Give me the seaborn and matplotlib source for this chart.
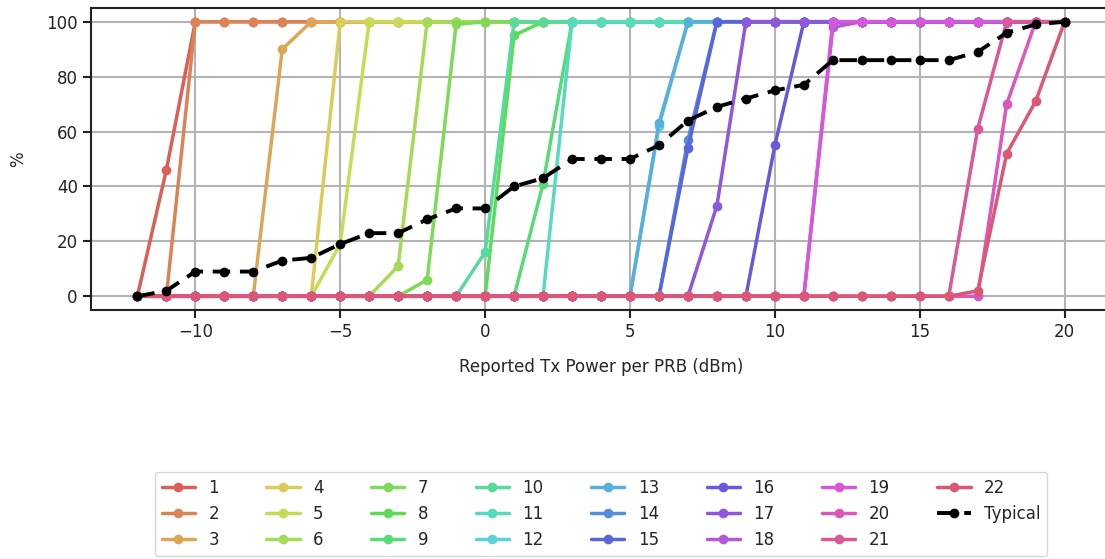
import matplotlib
matplotlib.use("Agg")
import matplotlib.pyplot as plt
import seaborn as sns
import pandas as pd

# Reported Tx power per PRB (dBm)
tx_power = [-12, -11, -10, -9, -8, -7, -6, -5, -4, -3, -2,
            -1, 0, 1, 2, 3, 4, 5, 6, 7, 8, 9,
            10, 11, 12, 13, 14, 15, 16, 17, 18, 19, 20]

# Cumulative share (%) per device, one list per device
s1 = [0, 46, 100, 100, 100, 100, 100, 100, 100, 100, 100,
      100, 100, 100, 100, 100, 100, 100, 100, 100, 100, 100,
      100, 100, 100, 100, 100, 100, 100, 100, 100, 100, 100]
s2 = [0, 0, 100, 100, 100, 100, 100, 100, 100, 100, 100,
      100, 100, 100, 100, 100, 100, 100, 100, 100, 100, 100,
      100, 100, 100, 100, 100, 100, 100, 100, 100, 100, 100]
s3 = [0, 0, 0, 0, 0, 90, 100, 100, 100, 100, 100,
      100, 100, 100, 100, 100, 100, 100, 100, 100, 100, 100,
      100, 100, 100, 100, 100, 100, 100, 100, 100, 100, 100]
s4 = [0, 0, 0, 0, 0, 0, 0, 100, 100, 100, 100,
      100, 100, 100, 100, 100, 100, 100, 100, 100, 100, 100,
      100, 100, 100, 100, 100, 100, 100, 100, 100, 100, 100]
s5 = [0, 0, 0, 0, 0, 0, 0, 19, 100, 100, 100,
      100, 100, 100, 100, 100, 100, 100, 100, 100, 100, 100,
      100, 100, 100, 100, 100, 100, 100, 100, 100, 100, 100]
s6 = [0, 0, 0, 0, 0, 0, 0, 0, 0, 11, 100,
      100, 100, 100, 100, 100, 100, 100, 100, 100, 100, 100,
      100, 100, 100, 100, 100, 100, 100, 100, 100, 100, 100]
s7 = [0, 0, 0, 0, 0, 0, 0, 0, 0, 0, 6,
      99, 100, 100, 100, 100, 100, 100, 100, 100, 100, 100,
      100, 100, 100, 100, 100, 100, 100, 100, 100, 100, 100]
s8 = [0, 0, 0, 0, 0, 0, 0, 0, 0, 0, 0,
      0, 0, 95, 100, 100, 100, 100, 100, 100, 100, 100,
      100, 100, 100, 100, 100, 100, 100, 100, 100, 100, 100]
s9 = [0, 0, 0, 0, 0, 0, 0, 0, 0, 0, 0,
      0, 0, 0, 41, 100, 100, 100, 100, 100, 100, 100,
      100, 100, 100, 100, 100, 100, 100, 100, 100, 100, 100]
s10 = [0, 0, 0, 0, 0, 0, 0, 0, 0, 0, 0,
       0, 16, 100, 100, 100, 100, 100, 100, 100, 100, 100,
       100, 100, 100, 100, 100, 100, 100, 100, 100, 100, 100]
s11 = [0, 0, 0, 0, 0, 0, 0, 0, 0, 0, 0,
       0, 0, 0, 0, 100, 100, 100, 100, 100, 100, 100,
       100, 100, 100, 100, 100, 100, 100, 100, 100, 100, 100]
s12 = [0, 0, 0, 0, 0, 0, 0, 0, 0, 0, 0,
       0, 0, 0, 0, 0, 0, 0, 62, 100, 100, 100,
       100, 100, 100, 100, 100, 100, 100, 100, 100, 100, 100]
s13 = [0, 0, 0, 0, 0, 0, 0, 0, 0, 0, 0,
       0, 0, 0, 0, 0, 0, 0, 63, 100, 100, 100,
       100, 100, 100, 100, 100, 100, 100, 100, 100, 100, 100]
s14 = [0, 0, 0, 0, 0, 0, 0, 0, 0, 0, 0,
       0, 0, 0, 0, 0, 0, 0, 0, 57, 100, 100,
       100, 100, 100, 100, 100, 100, 100, 100, 100, 100, 100]
s15 = [0, 0, 0, 0, 0, 0, 0, 0, 0, 0, 0,
       0, 0, 0, 0, 0, 0, 0, 0, 54, 100, 100,
       100, 100, 100, 100, 100, 100, 100, 100, 100, 100, 100]
s16 = [0, 0, 0, 0, 0, 0, 0, 0, 0, 0, 0,
       0, 0, 0, 0, 0, 0, 0, 0, 0, 0, 0,
       55, 100, 100, 100, 100, 100, 100, 100, 100, 100, 100]
s17 = [0, 0, 0, 0, 0, 0, 0, 0, 0, 0, 0,
       0, 0, 0, 0, 0, 0, 0, 0, 0, 33, 100,
       100, 100, 100, 100, 100, 100, 100, 100, 100, 100, 100]
s18 = [0, 0, 0, 0, 0, 0, 0, 0, 0, 0, 0,
       0, 0, 0, 0, 0, 0, 0, 0, 0, 0, 0,
       0, 0, 98, 100, 100, 100, 100, 100, 100, 100, 100]
s19 = [0, 0, 0, 0, 0, 0, 0, 0, 0, 0, 0,
       0, 0, 0, 0, 0, 0, 0, 0, 0, 0, 0,
       0, 0, 100, 100, 100, 100, 100, 100, 100, 100, 100]
s20 = [0, 0, 0, 0, 0, 0, 0, 0, 0, 0, 0,
       0, 0, 0, 0, 0, 0, 0, 0, 0, 0, 0,
       0, 0, 0, 0, 0, 0, 0, 0, 70, 100, 100]
s21 = [0, 0, 0, 0, 0, 0, 0, 0, 0, 0, 0,
       0, 0, 0, 0, 0, 0, 0, 0, 0, 0, 0,
       0, 0, 0, 0, 0, 0, 0, 61, 100, 100, 100]
s22 = [0, 0, 0, 0, 0, 0, 0, 0, 0, 0, 0,
       0, 0, 0, 0, 0, 0, 0, 0, 0, 0, 0,
       0, 0, 0, 0, 0, 0, 0, 2, 52, 71, 100]
typical = [0, 2, 9, 9, 9, 13, 14, 19, 23, 23, 28,
           32, 32, 40, 43, 50, 50, 50, 55, 64, 69, 72,
           75, 77, 86, 86, 86, 86, 86, 89, 96, 99, 100]

device_series = [s1, s2, s3, s4, s5, s6, s7, s8, s9, s10, s11,
                 s12, s13, s14, s15, s16, s17, s18, s19, s20, s21, s22]
device_names = [str(i) for i in range(1, 23)]

x_label = "Reported Tx Power per PRB (dBm)"
y_label = "%"

sns.set_style("ticks")
plt.rcParams["font.family"] = ["DejaVu Sans"]

frames = []
for name, values in zip(device_names, device_series):
    frames.append(pd.DataFrame({"tx": tx_power, "pct": values, "device": name}))
frames.append(pd.DataFrame({"tx": tx_power, "pct": typical, "device": "Typical"}))
df = pd.concat(frames, ignore_index=True)

palette = sns.color_palette("hls", len(device_names))

fig = plt.figure(figsize=(11.05, 5.59), dpi=100)
ax = fig.add_axes([91 / 1105, 1 - 310 / 559, (1111 - 91) / 1105, (310 - 8) / 559])

for name, color in zip(device_names, palette):
    sns.lineplot(data=df[df["device"] == name], x="tx", y="pct", ax=ax,
                 color=color, marker="o", markersize=7, markeredgewidth=0,
                 linewidth=2.5, label=name)
sns.lineplot(data=df[df["device"] == "Typical"], x="tx", y="pct", ax=ax,
             color="black", marker="o", markersize=7, markeredgewidth=0,
             linewidth=2.8, linestyle=(0, (4.5, 2.5)), label="Typical")

ax.set_xlim(-13.6, 21.6)
ax.set_ylim(-5, 105)
ax.set_xticks([-10, -5, 0, 5, 10, 15, 20])
ax.set_yticks([0, 20, 40, 60, 80, 100])
ax.grid(True, color="#b4b4b4", linewidth=1.5)
ax.set_axisbelow(True)
for sp in ax.spines.values():
    sp.set_color("#222222")
    sp.set_linewidth(1.5)
ax.tick_params(axis="both", labelsize=12, length=6, width=1.5, colors="#222222")
ax.set_xlabel(x_label, fontsize=12, labelpad=12)
ax.set_ylabel(y_label, fontsize=12, labelpad=14)

# legend centred under the axes
ax.legend(loc="upper center", bbox_to_anchor=(0.5, -162 / 302),
          ncol=8, fontsize=12,
          frameon=True, edgecolor="#cccccc", columnspacing=2.85,
          handlelength=2.0, labelspacing=0.5, borderaxespad=0)

fig.savefig("out.png", dpi=100)
